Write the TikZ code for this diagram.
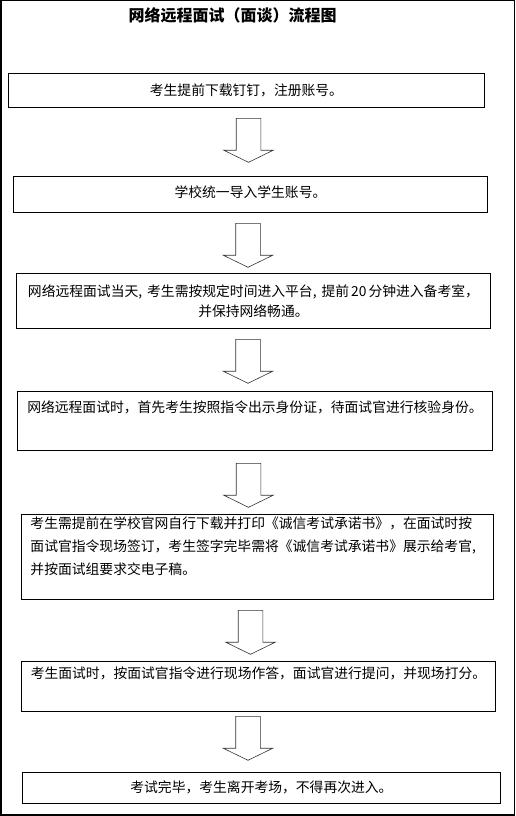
\documentclass[tikz,border=0pt]{standalone}
\usepackage{fontspec}
\newfontfamily\cjk{Noto Sans CJK SC}
\usetikzlibrary{shapes,arrows}

\tikzset{
  stepbox/.style={draw,line width=0.9pt,anchor=north west,inner xsep=6pt,inner ysep=0pt,
                  font=\cjk\fontsize{13.8}{20}\selectfont},
  downarrow/.style={draw=black!80,line width=0.6pt,single arrow,shape border rotate=270,
                    minimum height=44pt,minimum width=49pt,single arrow head extend=12.5pt,
                    single arrow tip angle=128,inner sep=12pt,anchor=tail}
}

\begin{document}
\begin{tikzpicture}[x=1pt,y=-1pt]
  \useasboundingbox (0,0) rectangle (516,816);
  \draw[line width=1.5pt] (0.75,0.75) rectangle (514.5,815);

  \node[font=\cjk\bfseries\fontsize{16}{16}\selectfont] (title) at (232.5,15) {网络远程面试（面谈）流程图};

  \node[stepbox,text width=464pt,align=center,text height=22pt,text depth=12pt] (s1) at (8,73)
       {考生提前下载钉钉，注册账号。};
  \node[stepbox,text width=462pt,align=center,text height=21pt,text depth=15pt] (s2) at (13,176)
       {学校统一导入学生账号。};
  \node[stepbox,text width=462pt,align=center,text height=23pt,text depth=32pt] (s3) at (16,273)
       {\mbox{网络远程面试当天,\kern5pt 考生需按规定时间进入平台,\kern5pt 提前\kern2pt 20\kern2pt 分钟进入备考室，}\\并保持网络畅通。};
  \node[stepbox,text width=463pt,align=center,text height=21pt,text depth=38pt] (s4) at (17,391)
       {网络远程面试时，首先考生按照指令出示身份证，待面试官进行核验身份。};
  \node[stepbox,inner xsep=9pt,text width=454pt,align=left,text height=14pt,text depth=71pt,
        font=\cjk\fontsize{13.8}{23}\selectfont] (s5) at (21,514)
       {考生需提前在学校官网自行下载并打印《诚信考试承诺书》，在面试时按\\
        面试官指令现场签订，考生签字完毕需将《诚信考试承诺书》展示给考官,\\
        并按面试组要求交电子稿。};
  \node[stepbox,text width=462pt,align=center,text height=17pt,text depth=33pt] (s6) at (21,661)
       {考生面试时，按面试官指令进行现场作答，面试官进行提问，并现场打分。};
  \node[stepbox,text width=466pt,align=center,text height=20pt,text depth=11pt] (s7) at (22,772)
       {考试完毕，考生离开考场，不得再次进入。};

  \node[downarrow] (a1) at (248.5,118) {};
  \node[downarrow] (a2) at (248,223) {};
  \node[downarrow] (a3) at (248,339) {};
  \node[downarrow] (a4) at (248.5,463) {};
  \node[downarrow] (a5) at (250.5,610) {};
  \node[downarrow] (a6) at (248,716) {};
\end{tikzpicture}
\end{document}
